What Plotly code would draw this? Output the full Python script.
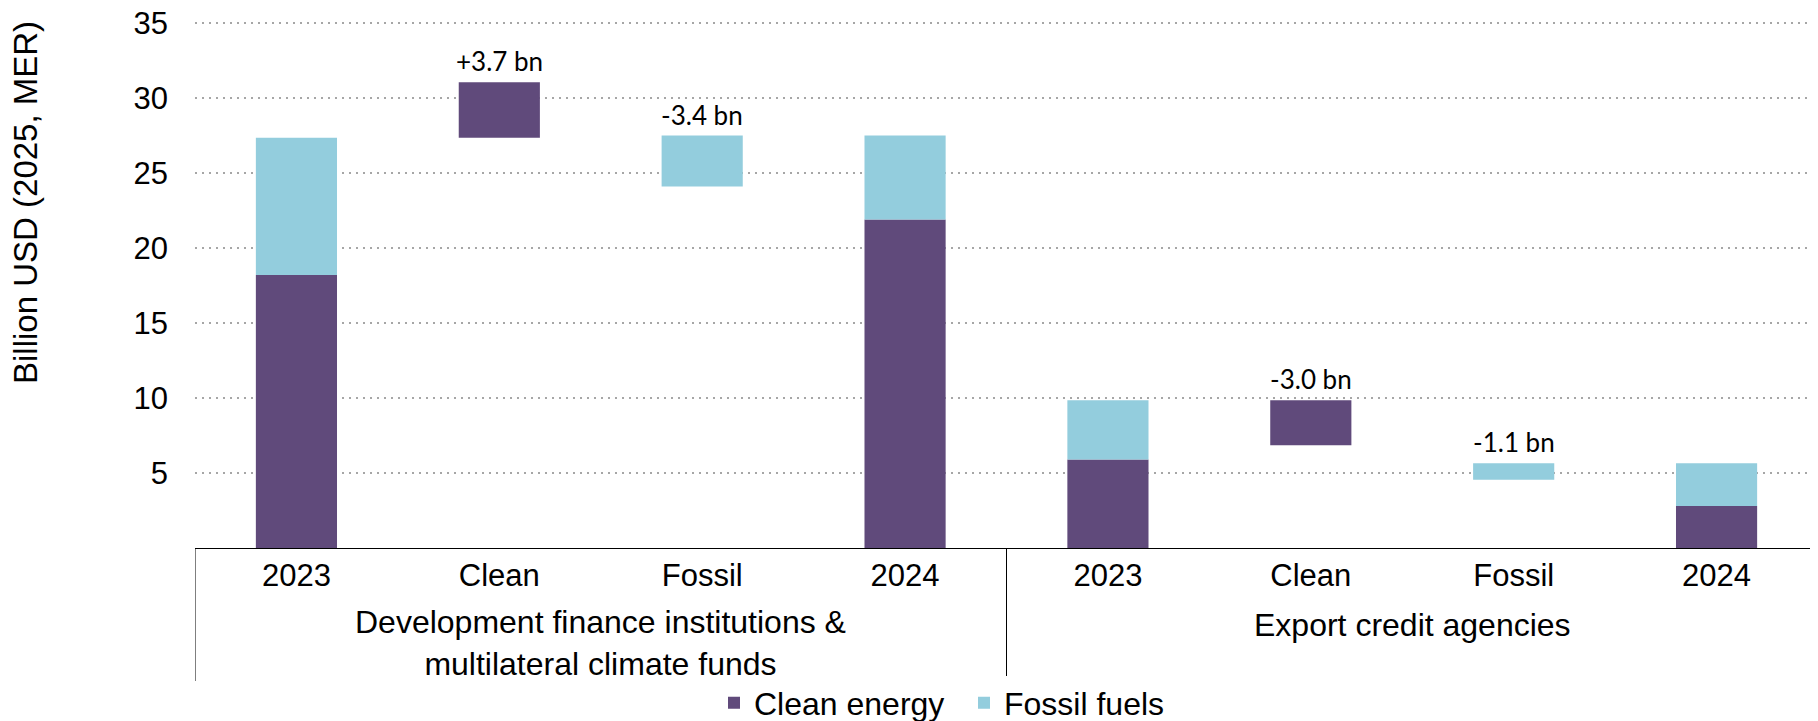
import plotly.graph_objects as go

# ---------------- data ----------------
groups = ["Development finance institutions &<br>multilateral climate funds",
          "Export credit agencies"]
steps = ["2023", "Clean", "Fossil", "2024"]

clean_2023 = [18.2, 5.9]
fossil_2023 = [9.15, 3.95]
clean_2024 = [21.9, 2.8]
fossil_2024 = [5.6, 2.85]
clean_change = [3.7, -3.0]
fossil_change = [-3.4, -1.1]

y_ticks = [5, 10, 15, 20, 25, 30, 35]

PURPLE = "#604A7B"
AQUA = "#93CDDD"
FONT = "Liberation Sans, Arial, sans-serif"
LABEL_FONT = "Lato, Carlito, Calibri, sans-serif"

# geometry: targets given in page (screen) pixels; the page body has an 8px margin
OFF = 8
W, H = 1818 - OFF, 721 - OFF
Y0 = 548 - OFF          # figure pixel row of value 0
PX_PER_UNIT = 15
YMAX = 35.2
TOP = Y0 - YMAX * PX_PER_UNIT
PH = Y0 - TOP
LEFT = 195 - OFF
PW = W - LEFT


def py(screen_y):
    return (Y0 - (screen_y - OFF)) / PH


def px(screen_x):
    return ((screen_x - OFF) - LEFT) / PW


# ---------------- build marks ----------------
cx, cy, cb = [], [], []
fx, fy, fb = [], [], []
labels = []
for g in range(len(groups)):
    off = g * len(steps)
    tot23 = clean_2023[g] + fossil_2023[g]
    tot24 = clean_2024[g] + fossil_2024[g]
    # 2023 stacked
    cx.append(off + 0); cy.append(clean_2023[g]); cb.append(0)
    fx.append(off + 0); fy.append(fossil_2023[g]); fb.append(clean_2023[g])
    # clean change
    lo = min(tot23, tot23 + clean_change[g]); hi = max(tot23, tot23 + clean_change[g])
    cx.append(off + 1); cy.append(hi - lo); cb.append(lo)
    labels.append((off + 1, hi, clean_change[g]))
    # fossil change (drawn ending at the 2024 total)
    lo = tot24 - abs(fossil_change[g]); hi = tot24
    fx.append(off + 2); fy.append(hi - lo); fb.append(lo)
    labels.append((off + 2, hi, fossil_change[g]))
    # 2024 stacked
    cx.append(off + 3); cy.append(clean_2024[g]); cb.append(0)
    fx.append(off + 3); fy.append(fossil_2024[g]); fb.append(clean_2024[g])

fig = go.Figure()
fig.add_trace(go.Bar(x=cx, y=cy, base=cb, name="Clean energy",
                     marker=dict(color=PURPLE, line=dict(width=0)), width=0.4))
fig.add_trace(go.Bar(x=fx, y=fy, base=fb, name="Fossil fuels",
                     marker=dict(color=AQUA, line=dict(width=0)), width=0.4))

for x, top, v in labels:
    fig.add_annotation(x=x, y=top, xref="x", yref="y", text=f"{v:+.1f} bn",
                       showarrow=False, yanchor="bottom", yshift=3,
                       font=dict(family=LABEL_FONT, size=26, color="black"))

n = len(groups) * len(steps)
tickvals = list(range(n))
ticktext = steps * len(groups)

# group labels
fig.add_annotation(x=1.5, y=py(643), xref="x", yref="paper",
                   text=groups[0], showarrow=False, yanchor="middle",
                   font=dict(family=FONT, size=32, color="black"))
fig.add_annotation(x=5.5, y=py(625), xref="x", yref="paper",
                   text=groups[1], showarrow=False, yanchor="middle",
                   font=dict(family=FONT, size=32, color="black"))

# y title
fig.add_annotation(x=px(26), y=py(203), xref="paper", yref="paper",
                   text="Billion USD (2025, MER)", textangle=-90, showarrow=False,
                   xanchor="center", yanchor="middle",
                   font=dict(family=FONT, size=33, color="black"))

# category dividers
for xv in [-0.5, 3.5, 7.5]:
    fig.add_shape(type="line", xref="x", yref="paper", x0=xv, x1=xv,
                  y0=0, y1=py(681), line=dict(color="black", width=1))

fig.update_layout(
    width=W, height=H,
    margin=dict(l=LEFT, r=0, t=TOP, b=H - Y0, autoexpand=False),
    plot_bgcolor="white", paper_bgcolor="white",
    barmode="overlay",
    font=dict(family=FONT, size=31, color="black"),
    showlegend=True,
    legend=dict(orientation="h", x=px(714), xanchor="left",
                y=py(703), yanchor="middle",
                entrywidth=205, entrywidthmode="pixels",
                font=dict(family=FONT, size=32, color="black"),
                traceorder="normal", itemclick=False, itemdoubleclick=False),
    xaxis=dict(range=[-0.5, 7.5], tickvals=tickvals, ticktext=ticktext,
               showgrid=False, zeroline=False, showline=True,
               linecolor="black", linewidth=1, ticks="", automargin=False,
               ticklabeloverflow="allow",
               tickfont=dict(family=FONT, size=31, color="black")),
    yaxis=dict(range=[0, YMAX], tickvals=y_ticks, showgrid=True,
               gridcolor="#A6A6A6", gridwidth=2, griddash="2px,5px",
               zeroline=False, showline=False, ticks="", automargin=False,
               ticklabelstandoff=26, ticklabeloverflow="allow",
               tickfont=dict(family=FONT, size=31, color="black")),
)

fig.write_html("out.html")
